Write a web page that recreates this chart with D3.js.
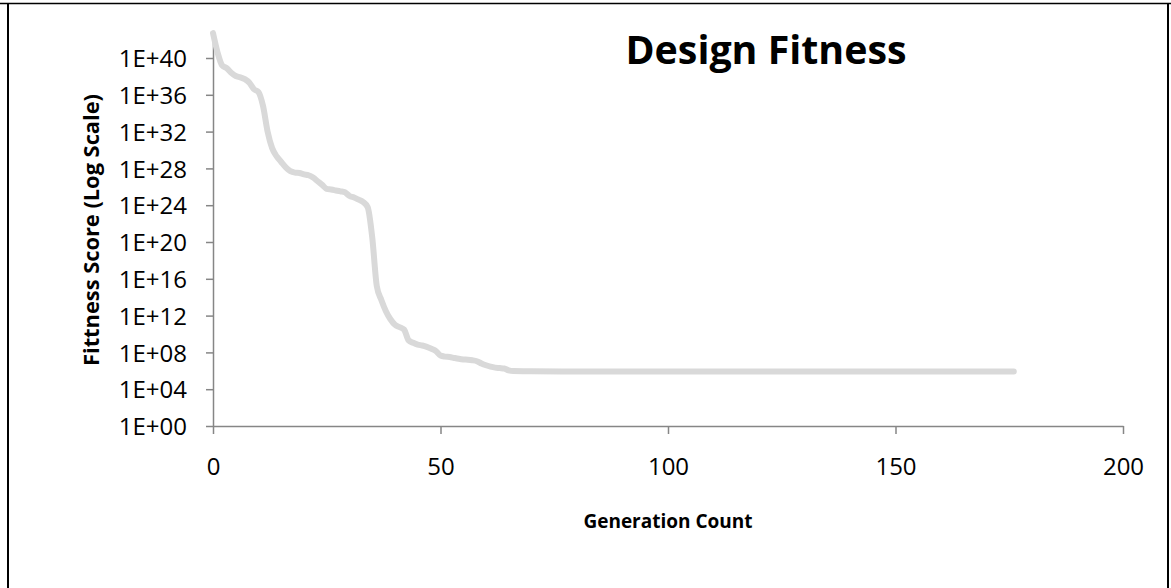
<!DOCTYPE html>
<html>
<head>
<meta charset="utf-8">
<script src="https://cdn.jsdelivr.net/npm/d3@7"></script>
<style>
  html, body { margin: 0; padding: 0; background: #fff; }
  svg { display: block; }
  text { font-family: "Open Sans", "Noto Sans", sans-serif; fill: #000; }
</style>
</head>
<body>
<svg id="chart" width="1171" height="588"></svg>
<script>
// Best fitness score per generation
const generations = [
  0, 1, 2, 3, 4, 5, 6, 7, 8, 9,
  10, 11, 12, 13, 14, 15, 16, 17, 18, 19,
  20, 21, 22, 23, 24, 25, 26, 27, 28, 29,
  30, 31, 32, 33, 34, 35, 36, 37, 38, 39,
  40, 41, 42, 43, 44, 45, 46, 47, 48, 49,
  50, 51, 52, 53, 54, 55, 56, 57, 58, 59,
  60, 61, 62, 63, 64, 65, 66, 70, 80, 100,
  120, 140, 160, 176
];
const fitness = [
  5e42, 4e40, 1.6e39, 8e38, 2.5e38, 1.1e38, 8e37, 5e37, 2e37, 4e36,
  2e36, 6e34, 1e32, 1.6e30, 2e29, 5e28, 1.3e28, 5e27, 3.5e27, 3.2e27,
  2.2e27, 1.8e27, 1e27, 4e26, 1.6e26, 6e25, 5e25, 4e25, 3.2e25, 2.5e25,
  1e25, 7e24, 4e24, 2.2e24, 6e23, 3e20, 1.6e15, 5e13, 3e12, 4e11,
  1e11, 5.6e10, 3e10, 2e9, 1.1e9, 7e8, 5.6e8, 4e8, 2.5e8, 1.4e8,
  4.5e7, 3.5e7, 3.2e7, 2.5e7, 2e7, 1.7e7, 1.6e7, 1.4e7, 1.1e7, 6.3e6,
  4e6, 2.8e6, 2.2e6, 2e6, 1.8e6, 1.1e6, 9.3e5, 9e5, 8.5e5, 8.5e5,
  8.5e5, 8.5e5, 8.5e5, 8.5e5
];

// Axis ticks
const xTicks = [0, 50, 100, 150, 200];
const yTicks = [1e0, 1e4, 1e8, 1e12, 1e16, 1e20, 1e24, 1e28, 1e32, 1e36, 1e40];

const chartTitle = "Design Fitness";
const xTitle = "Generation Count";
const yTitle = "Fittness Score (Log Scale)";

const svg = d3.select("#chart");
const W = 1171, H = 588;

// Page frame
svg.append("line").attr("x1", 0).attr("x2", W).attr("y1", 3.5).attr("y2", 3.5)
  .attr("stroke", "#000").attr("stroke-width", 1.5);
svg.append("line").attr("x1", 8).attr("x2", 8).attr("y1", 3).attr("y2", H)
  .attr("stroke", "#000").attr("stroke-width", 2);
svg.append("line").attr("x1", 1168).attr("x2", 1168).attr("y1", 3).attr("y2", H)
  .attr("stroke", "#000").attr("stroke-width", 2);

const plot = { left: 213, right: 1123, top: 30.4, bottom: 426 };

const x = d3.scaleLinear().domain([0, 200]).range([plot.left, plot.right]);
const y = d3.scaleLog().domain([1, 1e43]).range([plot.bottom, plot.top]);

const axisColor = "#868686";
const expFmt = v => {
  const e = Math.round(Math.log10(v));
  return "1E+" + String(e).padStart(2, "0");
};

// Y axis
const yAxis = svg.append("g")
  .attr("transform", `translate(${plot.left},0)`)
  .call(d3.axisLeft(y).tickValues(yTicks).tickFormat(expFmt).tickSize(7).tickSizeOuter(0).tickPadding(19));
yAxis.select(".domain").attr("stroke", axisColor).attr("stroke-width", 1.5);
yAxis.selectAll(".tick line").attr("stroke", axisColor).attr("stroke-width", 1.5);
yAxis.selectAll(".tick text")
  .attr("font-family", "'Open Sans', sans-serif").attr("font-size", 24).attr("fill", "#000")
  .attr("dy", "0.36em");

// X axis
const xAxis = svg.append("g")
  .attr("transform", `translate(0,${plot.bottom})`)
  .call(d3.axisBottom(x).tickValues(xTicks).tickFormat(d3.format("d")).tickSize(8).tickSizeOuter(0).tickPadding(24));
xAxis.select(".domain").attr("stroke", axisColor).attr("stroke-width", 1.5);
xAxis.selectAll(".tick line").attr("stroke", axisColor).attr("stroke-width", 1.5);
xAxis.selectAll(".tick text")
  .attr("font-family", "'Open Sans', sans-serif").attr("font-size", 24).attr("fill", "#000");

// Fitness line
const pts = generations.map((g, i) => [g, fitness[i]]);
const line = d3.line().x(d => x(d[0])).y(d => y(d[1])).curve(d3.curveMonotoneX);
svg.append("path")
  .datum(pts)
  .attr("d", line)
  .attr("fill", "none")
  .attr("stroke", "#d9d9d9")
  .attr("stroke-width", 6)
  .attr("stroke-linecap", "round")
  .attr("stroke-linejoin", "round");

// Titles
svg.append("text")
  .attr("x", 766).attr("y", 64)
  .attr("text-anchor", "middle")
  .attr("font-size", 40).attr("font-weight", "bold")
  .attr("textLength", 281).attr("lengthAdjust", "spacingAndGlyphs")
  .text(chartTitle);

svg.append("text")
  .attr("x", (plot.left + plot.right) / 2).attr("y", 528)
  .attr("text-anchor", "middle")
  .attr("font-size", 19).attr("font-weight", "bold")
  .text(xTitle);

svg.append("text")
  .attr("transform", `translate(99,230) rotate(-90)`)
  .attr("text-anchor", "middle")
  .attr("font-size", 20.5).attr("font-weight", "bold")
  .attr("textLength", 272).attr("lengthAdjust", "spacingAndGlyphs")
  .text(yTitle);
</script>
</body>
</html>
